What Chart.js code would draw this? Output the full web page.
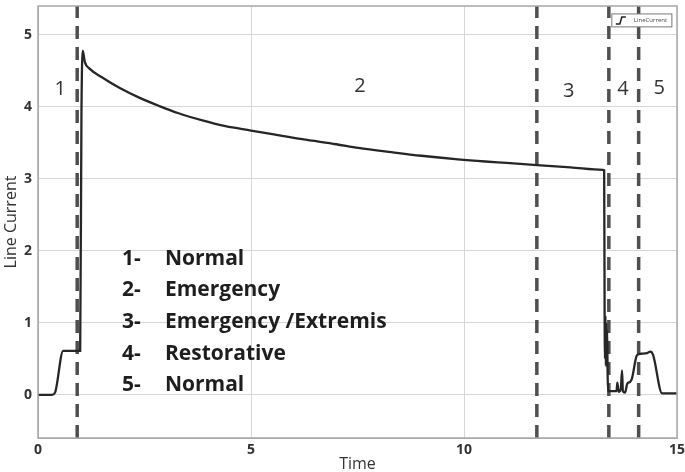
<!DOCTYPE html>
<html>
<head>
<meta charset="utf-8">
<script src="https://cdn.jsdelivr.net/npm/chart.js@4.4.1/dist/chart.umd.min.js"></script>
<style>
  html, body { margin: 0; padding: 0; background: #fff; }
  #wrap { width: 685px; height: 472px; }
</style>
</head>
<body>
<div id="wrap"><canvas id="chart" width="685" height="472"></canvas></div>
<script>
// line current trace
const timeValues = [
  0, 0.33, 0.4, 0.59, 0.99, 1.02, 1.05, 1.1, 1.21, 1.5, 1.92, 2.4, 2.85, 3.3, 3.86,
  4.4, 5.0, 5.5, 6.2, 7.0, 7.52, 8.3, 9.0, 9.86, 10.5, 11.0, 11.71, 12.5, 13.26,
  13.29, 13.3, 13.31, 13.32, 13.33, 13.34, 13.35, 13.36, 13.37, 13.38, 13.5, 13.58,
  13.6, 13.63, 13.68, 13.71, 13.73, 13.78, 13.83, 13.9, 13.94, 14.06, 14.15, 14.3,
  14.38, 14.44, 14.65, 15
];
const currentValues = [
  0, 0, 0.03, 0.61, 0.61, 3.9, 4.78, 4.62, 4.53, 4.41, 4.26, 4.12, 4.01, 3.91, 3.81,
  3.73, 3.67, 3.62, 3.55, 3.48, 3.43, 3.37, 3.32, 3.27, 3.24, 3.22, 3.19, 3.16, 3.125,
  3.12, 1.25, 0.5, 1.1, 0.4, 1.0, 0.45, 0.9, 0.37, 0.05, 0.05, 0.05,
  0.17, 0.04, 0.08, 0.34, 0.05, 0.03, 0.15, 0.18, 0.22, 0.55, 0.57, 0.58,
  0.6, 0.55, 0.02, 0.02
];

// state boundaries (dashed verticals)
const boundaryTimes = [0.92, 11.71, 13.4, 14.1];

// state numbers above the curve
const stateLabels = ['1', '2', '3', '4', '5'];
const stateLabelX = [0.52, 7.56, 12.46, 13.73, 14.58];
const stateLabelY = [4.24, 4.28, 4.21, 4.24, 4.26];

// key list inside the plot
const keyNumbers = ['1-', '2-', '3-', '4-', '5-'];
const keyNames = ['Normal', 'Emergency', 'Emergency /Extremis', 'Restorative', 'Normal'];
const keyY = [1.89, 1.46, 1.01, 0.57, 0.14];
const keyNumX = 1.97;
const keyNameX = 2.98;

const xTicks = [0, 5, 10, 15];
const yTicks = [0, 1, 2, 3, 4, 5];

const trace = timeValues.map((t, i) => ({ x: t, y: currentValues[i] }));

const dashed = boundaryTimes.map(t => ({
  data: [{ x: t, y: -0.6 }, { x: t, y: 5.4 }],
  borderColor: '#4f4f4f',
  borderWidth: 3.5,
  borderDash: [13, 8],
  pointRadius: 0,
  showLine: true
}));

const textPlugin = {
  id: 'textPlugin',
  afterDatasetsDraw(chart) {
    const { ctx, chartArea: a, scales: { x, y } } = chart;
    ctx.save();
    // frame
    ctx.strokeStyle = '#a8a8a8';
    ctx.lineWidth = 1.5;
    ctx.strokeRect(a.left, a.top, a.right - a.left, a.bottom - a.top);

    ctx.fillStyle = '#333';
    ctx.textBaseline = 'middle';
    ctx.textAlign = 'center';
    ctx.font = '20px "Open Sans"';
    stateLabels.forEach((s, i) => {
      ctx.fillText(s, x.getPixelForValue(stateLabelX[i]), y.getPixelForValue(stateLabelY[i]));
    });

    ctx.textAlign = 'left';
    ctx.font = 'bold 21px "Open Sans"';
    ctx.fillStyle = '#1e1e1e';
    keyNames.forEach((n, i) => {
      const py = y.getPixelForValue(keyY[i]);
      ctx.fillText(keyNumbers[i], x.getPixelForValue(keyNumX), py);
      ctx.fillText(n, x.getPixelForValue(keyNameX), py);
    });

    // small legend box top right
    const bx0 = x.getPixelForValue(13.47), bx1 = x.getPixelForValue(14.88);
    const by0 = y.getPixelForValue(5.29), by1 = y.getPixelForValue(5.11);
    ctx.fillStyle = '#fff';
    ctx.fillRect(bx0, by0, bx1 - bx0, by1 - by0);
    ctx.strokeStyle = '#777';
    ctx.lineWidth = 1;
    ctx.strokeRect(bx0, by0, bx1 - bx0, by1 - by0);
    ctx.strokeStyle = '#222';
    ctx.lineWidth = 1.5;
    ctx.beginPath();
    ctx.moveTo(bx0 + 4, by1 - 3);
    ctx.lineTo(bx0 + 8, by1 - 3);
    ctx.lineTo(bx0 + 10, by0 + 3);
    ctx.lineTo(bx0 + 14, by0 + 3);
    ctx.stroke();
    ctx.fillStyle = '#444';
    ctx.font = '6px "Open Sans"';
    ctx.fillText('LineCurrent', bx0 + 22, (by0 + by1) / 2);
    ctx.restore();
  }
};

new Chart(document.getElementById('chart'), {
  type: 'scatter',
  data: {
    datasets: [
      {
        data: trace,
        borderColor: '#262626',
        borderWidth: 2.3,
        pointRadius: 0,
        showLine: true,
        cubicInterpolationMode: 'monotone'
      },
      ...dashed
    ]
  },
  options: {
    responsive: false,
    animation: false,
    layout: { padding: { top: 6, right: 8, left: 0, bottom: 0 } },
    plugins: { legend: { display: false }, tooltip: { enabled: false } },
    scales: {
      x: {
        type: 'linear',
        min: 0,
        max: 15,
        afterBuildTicks: s => { s.ticks = xTicks.map(v => ({ value: v })); },
        afterFit: s => { s.height = 34; s.paddingLeft = 0; s.paddingRight = 0; },
        ticks: { color: '#333', font: { family: 'Open Sans', size: 14, weight: 'bold' }, padding: 4, maxRotation: 0 },
        grid: { color: '#d6d6d6', drawTicks: false },
        border: { color: '#a8a8a8' },
        title: { display: true, text: 'Time', color: '#333', font: { family: 'Open Sans', size: 16 }, padding: { top: 0, bottom: -2 } }
      },
      y: {
        min: -0.6,
        max: 5.4,
        afterBuildTicks: s => { s.ticks = yTicks.map(v => ({ value: v })); },
        afterFit: s => { s.width = 38; s.paddingTop = 0; s.paddingBottom = 0; },
        ticks: { color: '#333', font: { family: 'Open Sans', size: 14, weight: 'bold' }, padding: 6 },
        grid: { color: '#d6d6d6', drawTicks: false },
        border: { color: '#a8a8a8' },
        title: { display: true, text: 'Line Current', color: '#333', font: { family: 'Open Sans', size: 16 }, padding: { top: 2, bottom: 0 } }
      }
    }
  },
  plugins: [textPlugin]
});
</script>
</body>
</html>
